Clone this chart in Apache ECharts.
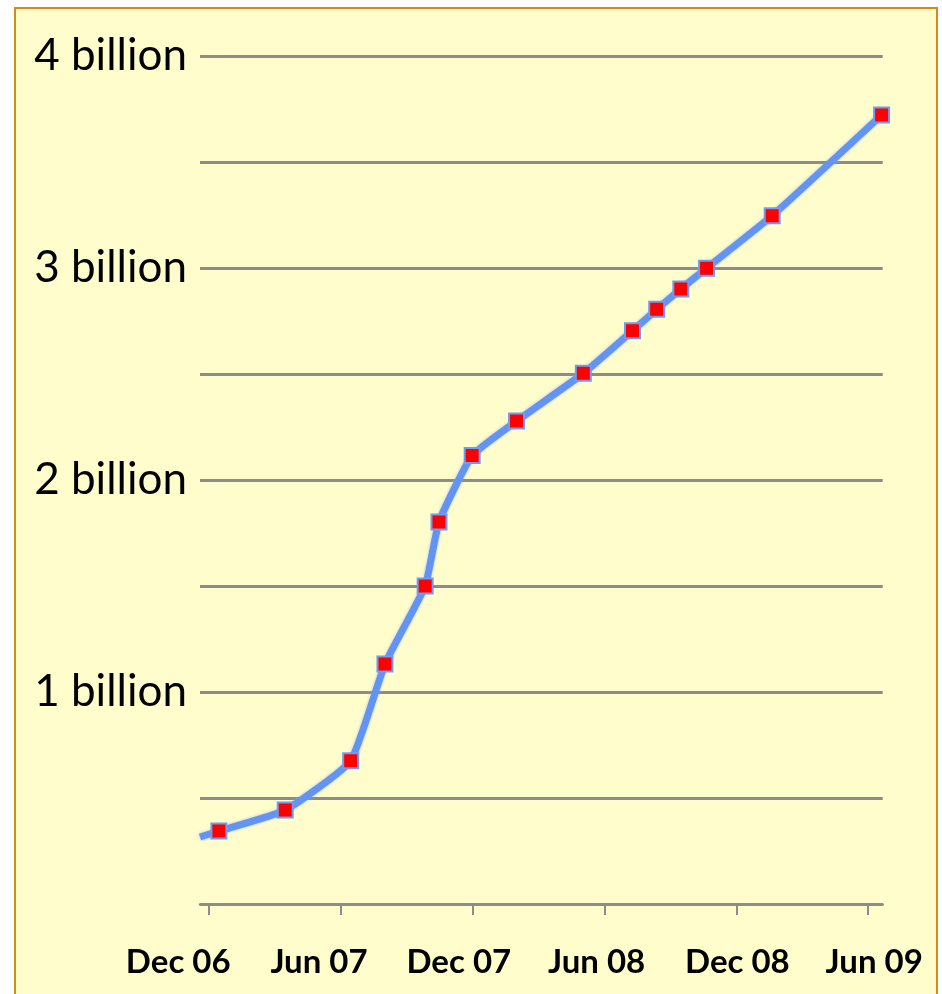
<!DOCTYPE html>
<html>
<head>
<meta charset="utf-8">
<script src="https://cdn.jsdelivr.net/npm/echarts@6/dist/echarts.min.js"></script>
<style>
  html, body { margin: 0; padding: 0; background: #ffffff; }
  #frame { position: absolute; left: 14px; top: 7px; width: 920px; height: 1000px;
           background: #FFFDCC; border: 2px solid #D98A12; border-bottom: none; }
  #chart { position: absolute; left: 0; top: 0; width: 942px; height: 994px; }
</style>
</head>
<body>
<div id="frame"></div>
<div id="chart"></div>
<script>
// Months since Dec 2006
const months = [-0.42, 0.44, 3.46, 6.44, 8.0, 9.83, 10.46, 11.97, 13.99, 17.03, 19.27, 20.37, 21.47, 22.64, 25.63, 30.61];
// Values in billions
const values = [0.316, 0.344, 0.443, 0.676, 1.132, 1.50, 1.802, 2.115, 2.278, 2.503, 2.704, 2.805, 2.901, 2.999, 3.247, 3.722];
const showMarker = [false, true, true, true, true, true, true, true, true, true, true, true, true, true, true, true];
const tickMonths = [0, 6, 12, 18, 24, 30];
const tickLabels = ['Dec 06', 'Jun 07', 'Dec 07', 'Jun 08', 'Dec 08', 'Jun 09'];
const labelShift = [-31, -22, -14, -8, 1, 6];
const yLabels = {1: '1 billion', 2: '2 billion', 3: '3 billion', 4: '4 billion'};

const chart = echarts.init(document.getElementById('chart'), null, {renderer: 'canvas'});
const rich = {};
labelShift.forEach((s, i) => {
  rich['r' + i] = {
    fontFamily: 'Lato', fontWeight: 'bold', fontSize: 33, color: '#000',
    padding: s < 0 ? [0, -2 * s, 0, 0] : [0, 0, 0, 2 * s]
  };
});

const data = months.map((m, i) => {
  const d = {value: [m, values[i]]};
  if (!showMarker[i]) d.symbol = 'none';
  return d;
});

chart.setOption({
  animation: false,
  backgroundColor: 'transparent',
  grid: {left: 200, right: 59.3, top: 56, bottom: 90, containLabel: false},
  xAxis: {
    type: 'value', min: -0.42, max: 30.66,
    splitLine: {show: false},
    axisLine: {show: true, lineStyle: {color: '#8c8c8c', width: 2.5}},
    axisTick: {show: true, customValues: tickMonths, length: 11, inside: false,
               lineStyle: {color: '#8c8c8c', width: 2}},
    axisLabel: {
      show: true, customValues: tickMonths, margin: 42,
      formatter: function (v) {
        const i = tickMonths.indexOf(Math.round(v));
        return i >= 0 ? '{r' + i + '|' + tickLabels[i] + '}' : '';
      },
      rich: rich
    }
  },
  yAxis: {
    type: 'value', min: 0, max: 4, interval: 0.5,
    axisLine: {show: false},
    axisTick: {show: false},
    splitLine: {show: true, lineStyle: {color: '#8c8c8c', width: 3}},
    axisLabel: {
      margin: 13, fontFamily: 'Lato', fontSize: 44, color: '#000',
      formatter: function (v) { return yLabels[v] || ''; }
    }
  },
  series: [{
    type: 'line',
    data: data,
    smooth: 0.15,
    symbol: 'rect',
    symbolSize: 15,
    lineStyle: {color: '#6394f3', width: 7, shadowColor: 'rgba(120,160,255,0.7)', shadowBlur: 3},
    itemStyle: {color: '#ff0000', borderColor: '#6f9cf0', borderWidth: 2}
  }]
});
</script>
</body>
</html>
